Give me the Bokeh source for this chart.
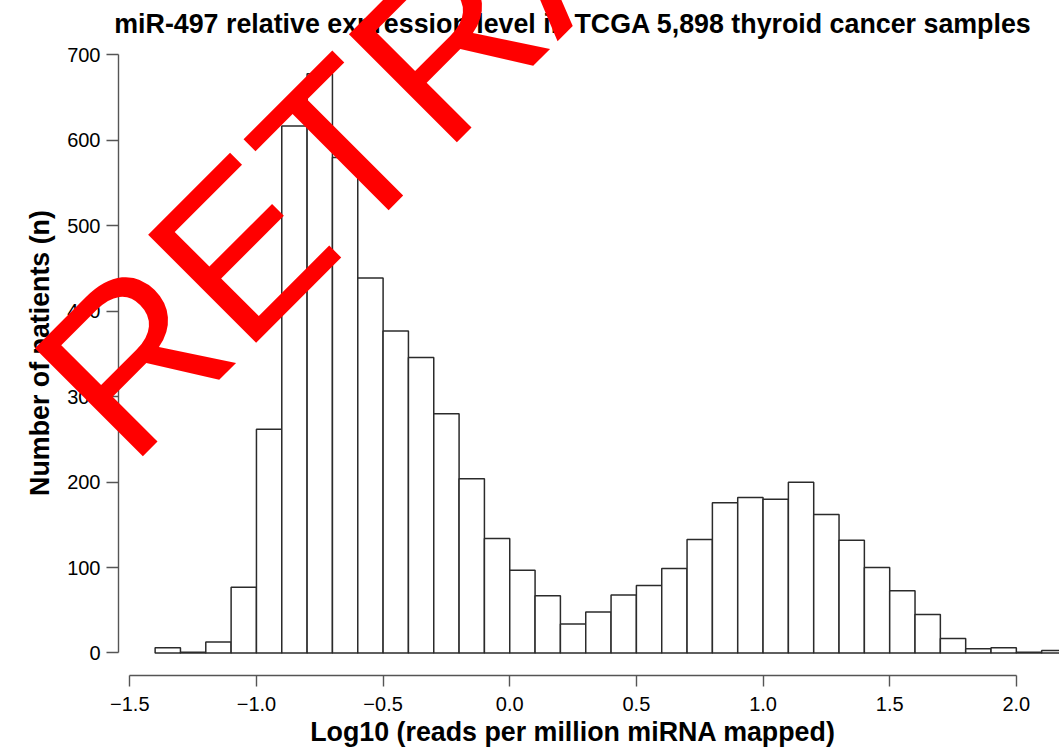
from bokeh.plotting import figure
from bokeh.models import Range1d, FixedTicker, ColumnDataSource, GridBox, Div
from bokeh.embed import file_html
from bokeh.resources import INLINE

# ---- data ----
bin_left = [-1.4, -1.3, -1.2, -1.1, -1.0, -0.9, -0.8, -0.7, -0.6, -0.5, -0.4, -0.3,
            -0.2, -0.1, 0.0, 0.1, 0.2, 0.3, 0.4, 0.5, 0.6, 0.7, 0.8, 0.9,
            1.0, 1.1, 1.2, 1.3, 1.4, 1.5, 1.6, 1.7, 1.8, 1.9, 2.0, 2.1]
bin_right = [-1.3, -1.2, -1.1, -1.0, -0.9, -0.8, -0.7, -0.6, -0.5, -0.4, -0.3, -0.2,
             -0.1, 0.0, 0.1, 0.2, 0.3, 0.4, 0.5, 0.6, 0.7, 0.8, 0.9, 1.0,
             1.1, 1.2, 1.3, 1.4, 1.5, 1.6, 1.7, 1.8, 1.9, 2.0, 2.1, 2.2]
counts = [6, 1, 13, 77, 262, 617, 678, 580, 439, 377, 346, 280,
          204, 134, 97, 67, 34, 48, 68, 79, 99, 133, 176, 182,
          180, 200, 162, 132, 100, 73, 45, 17, 5, 6, 1, 3]

x_ticks = [-1.5, -1.0, -0.5, 0.0, 0.5, 1.0, 1.5, 2.0]
x_tick_labels = ["\u22121.5", "\u22121.0", "\u22120.5", "0.0", "0.5", "1.0", "1.5", "2.0"]
y_ticks = [0, 100, 200, 300, 400, 500, 600, 700]

title_text = "miR-497 relative expression level in TCGA 5,898 thyroid cancer samples"
x_title = "Log10 (reads per million miRNA mapped)"
y_title = "Number of patients (n)"
stamp_text = "RETRACTED"

# ---- layout ----
W, H = 1059, 748
FL, FT, FB = 118, 30, 675          # frame left / top / bottom (canvas px)
SX = 253.3                          # px per x unit
SY = 0.8543                         # px per count
XS = -1.5446
XE = XS + (W - FL) / SX
YS = -26.34
YE = YS + (FB - FT) / SY

p = figure(width=W, height=H, x_range=Range1d(XS, XE), y_range=Range1d(YS, YE),
           output_backend="svg", toolbar_location=None,
           min_border_left=FL, min_border_right=0, min_border_top=FT,
           min_border_bottom=H - FB)
p.outline_line_color = None
p.xgrid.visible = False
p.ygrid.visible = False
p.background_fill_color = "white"
p.border_fill_color = "white"

src = ColumnDataSource(dict(left=bin_left, right=bin_right, top=counts,
                            bottom=[0] * len(counts)))
p.quad(left="left", right="right", top="top", bottom="bottom", source=src,
       fill_color="white", line_color="#2b2b2b", line_width=1.5)

axis_col = "#555555"
xa = p.xaxis[0]
xa.bounds = (x_ticks[0], x_ticks[-1])
xa.ticker = FixedTicker(ticks=x_ticks)
xa.major_label_overrides = {t: l for t, l in zip(x_ticks, x_tick_labels)}
xa.minor_tick_line_color = None
xa.major_tick_in = 0
xa.major_tick_out = 11
xa.axis_line_color = axis_col
xa.major_tick_line_color = axis_col
xa.axis_line_width = 1.4
xa.major_tick_line_width = 1.4
xa.major_label_text_font = "Liberation Sans"
xa.major_label_text_font_size = "20px"
xa.major_label_text_color = "black"
xa.major_label_standoff = 10

ya = p.yaxis[0]
ya.bounds = (y_ticks[0], y_ticks[-1])
ya.ticker = FixedTicker(ticks=y_ticks)
ya.minor_tick_line_color = None
ya.major_tick_in = 0
ya.major_tick_out = 12
ya.axis_line_color = axis_col
ya.major_tick_line_color = axis_col
ya.axis_line_width = 1.4
ya.major_tick_line_width = 1.4
ya.major_label_text_font = "Liberation Sans"
ya.major_label_text_font_size = "20px"
ya.major_label_text_color = "black"
ya.major_label_standoff = 6
ya.major_label_orientation = "horizontal"
ya.axis_label = y_title
ya.axis_label_text_font = "Liberation Sans"
ya.axis_label_text_font_style = "bold"
ya.axis_label_text_font_size = "26.8px"
ya.axis_label_text_color = "black"
ya.axis_label_standoff = 9

# ---- HTML overlay: title, x-axis title and the red stamp ----
BASE = 0.8465   # baseline offset (em) of Liberation Sans with line-height 1

def span(txt, left, baseline, size, weight="normal", color="black",
         center=False, rotate=None):
    top = baseline - BASE * size
    tr = []
    if center:
        tr.append("translateX(-50%)")
    if rotate is not None:
        tr.append("rotate(%gdeg)" % rotate)
    style = ("position:absolute;left:%.1fpx;top:%.1fpx;font-family:'Liberation Sans';"
             "font-size:%.1fpx;font-weight:%s;color:%s;line-height:1;white-space:nowrap;"
             "transform-origin:0 0;%s" % (left, top, size, weight, color,
                                          ("transform:" + " ".join(tr) + ";") if tr else ""))
    return '<div style="%s">%s</div>' % (style, txt)

# stamp: baseline origin, rotated 45 degrees counter-clockwise
ST_SIZE = 222
ox, oy = 130, 469
d = BASE * ST_SIZE * 0.70711
stamp_html = span(stamp_text, ox - d, oy - d + BASE * ST_SIZE, ST_SIZE,
                  color="#ff0000", rotate=-45)

html = ('<div style="position:relative;width:%dpx;height:%dpx;pointer-events:none;">' % (W, H)
        + span(title_text, 572.5, 33.5, 26.8, weight="bold", center=True)
        + span(x_title, 572.5, 742, 26.8, weight="bold", center=True)
        + stamp_html
        + '</div>')

overlay = Div(text=html, width=W, height=H, margin=0)

page = GridBox(children=[(p, 0, 0), (overlay, 0, 0)])

open("out.html", "w").write(file_html(page, INLINE))
